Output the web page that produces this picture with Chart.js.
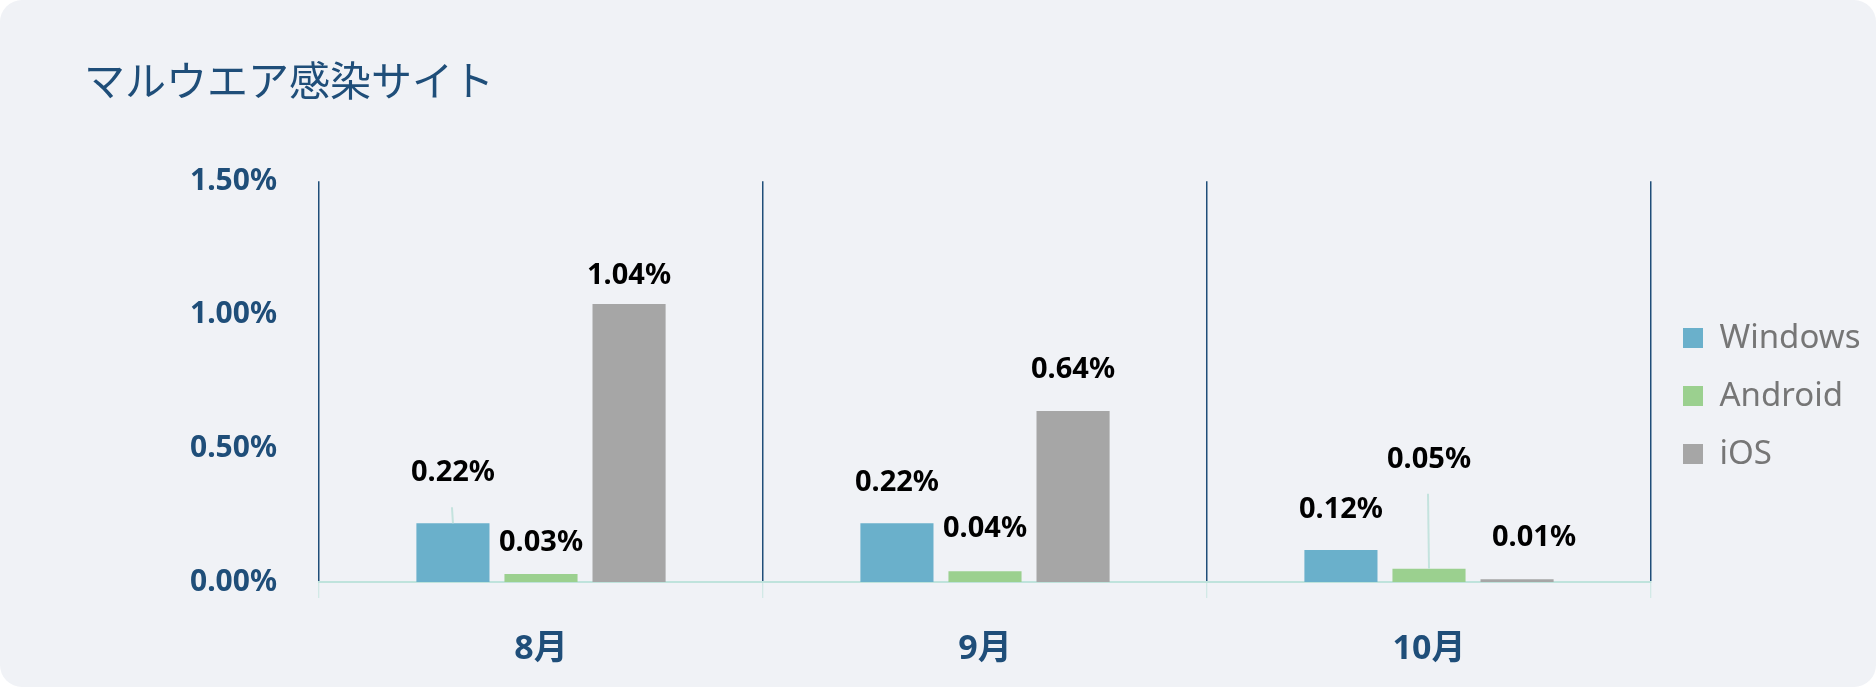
<!DOCTYPE html>
<html>
<head>
<meta charset="utf-8">
<script src="https://cdn.jsdelivr.net/npm/chart.js@4"></script>
<style>
  html, body { margin: 0; padding: 0; background: #ffffff; }
  .card {
    width: 1876px; height: 687px;
    background: #f0f2f6;
    border-radius: 22px;
    overflow: hidden;
  }
</style>
</head>
<body>
<div class="card"><canvas id="myChart" width="1876" height="687"></canvas></div>
<script>
  const months     = ['8月', '9月', '10月'];
  const windowsPct = [0.22, 0.22, 0.12];
  const androidPct = [0.03, 0.04, 0.05];
  const iosPct     = [1.04, 0.64, 0.01];
  const yTicks     = [0, 0.5, 1.0, 1.5];

  const navy = '#1f4e79';
  const sans = '"Noto Sans", "Noto Sans CJK JP", sans-serif';

  // where each value label sits relative to its bar top (px), per dataset
  const labelLift = [
    [50, 40, 40],
    [31, 43, 109],
    [28, 41, 42]
  ];
  const labelShift = [
    [0, 0, 0],
    [0, 0, 0],
    [0, 0, 17]
  ];

  const valueLabels = {
    id: 'valueLabels',
    afterDatasetsDraw(chart) {
      const c = chart.ctx;
      c.save();
      chart.data.datasets.forEach((ds, di) => {
        chart.getDatasetMeta(di).data.forEach((bar, i) => {
          const lift = labelLift[di][i];
          const ty = bar.y - lift;
          if (lift > 45) {
            // leader line
            c.strokeStyle = '#c4e3de';
            c.lineWidth = 2;
            c.beginPath();
            c.moveTo(bar.x, bar.y);
            c.lineTo(bar.x - 1, ty + 34);
            c.stroke();
          }
          c.fillStyle = '#000';
          c.font = 'bold 29px ' + sans;
          c.textAlign = 'center';
          c.textBaseline = 'middle';
          c.fillText(ds.data[i].toFixed(2) + '%', bar.x + labelShift[di][i], ty);
        });
      });
      c.restore();
    }
  };

  const legendFont = 33, legendPad = 25, legendBox = 20;
  const legendLeft = 1658;

  const ctx = document.getElementById('myChart');
  const chart = new Chart(ctx, {
    type: 'bar',
    data: {
      labels: months,
      datasets: [
        { label: 'Windows', data: windowsPct, backgroundColor: '#6ab0cb' },
        { label: 'Android', data: androidPct, backgroundColor: '#9bd08f' },
        { label: 'iOS',     data: iosPct,     backgroundColor: '#a6a6a6' }
      ]
    },
    options: {
      responsive: false,
      animation: false,
      categoryPercentage: 0.595,
      barPercentage: 0.83,
      borderWidth: 0,
      layout: { padding: { left: 84, right: 10, top: 0, bottom: 0 } },
      plugins: {
        tooltip: { enabled: false },
        title: {
          display: true,
          text: 'マルウエア感染サイト',
          align: 'start',
          color: navy,
          font: { family: '"Noto Sans CJK JP", "Noto Sans", sans-serif', size: 41, weight: 'normal', lineHeight: 1.2 },
          padding: { top: 56, bottom: 76 }
        },
        legend: {
          position: 'right',
          align: 'center',
          fullSize: false,
          title: { display: true, text: '', font: { size: 9, lineHeight: 1 }, padding: { top: 10, bottom: 10 } },
          labels: {
            boxWidth: legendBox,
            boxHeight: legendBox,
            padding: legendPad,
            color: '#767676',
            font: { family: sans, size: legendFont }
          }
        }
      },
      scales: {
        x: {
          afterFit: (scale) => { scale.height = 105; },
          grid: {
            offset: true,
            color: navy,
            lineWidth: 1.5,
            tickColor: '#c8e6e1',
            tickWidth: 1,
            tickLength: 16
          },
          border: { display: true, color: '#bfe3dc', width: 2 },
          ticks: {
            padding: 31,
            color: navy,
            font: { family: sans, size: 34, weight: 'bold' }
          }
        },
        y: {
          min: 0,
          max: 1.5,
          afterFit: (scale) => { scale.width = 235; },
          afterBuildTicks: (scale) => { scale.ticks = yTicks.map(v => ({ value: v })); },
          grid: { display: false, drawTicks: false },
          border: { display: false },
          ticks: {
            padding: 42,
            color: navy,
            font: { family: sans, size: 30, weight: 'bold' },
            callback: (v) => Number(v).toFixed(2) + '%'
          }
        },
        // empty spacer between plot and legend
        spacer: {
          type: 'linear',
          position: 'right',
          afterFit: (scale) => { scale.width = 7; },
          grid: { display: false, drawTicks: false },
          border: { display: false },
          ticks: { display: false }
        }
      }
    },
    plugins: [valueLabels]
  });

  // nudge the right padding so the legend starts where it should
  const pad = chart.options.layout.padding;
  pad.right = Math.max(0, pad.right + (chart.legend.left - legendLeft));
  chart.update();
</script>
</body>
</html>
